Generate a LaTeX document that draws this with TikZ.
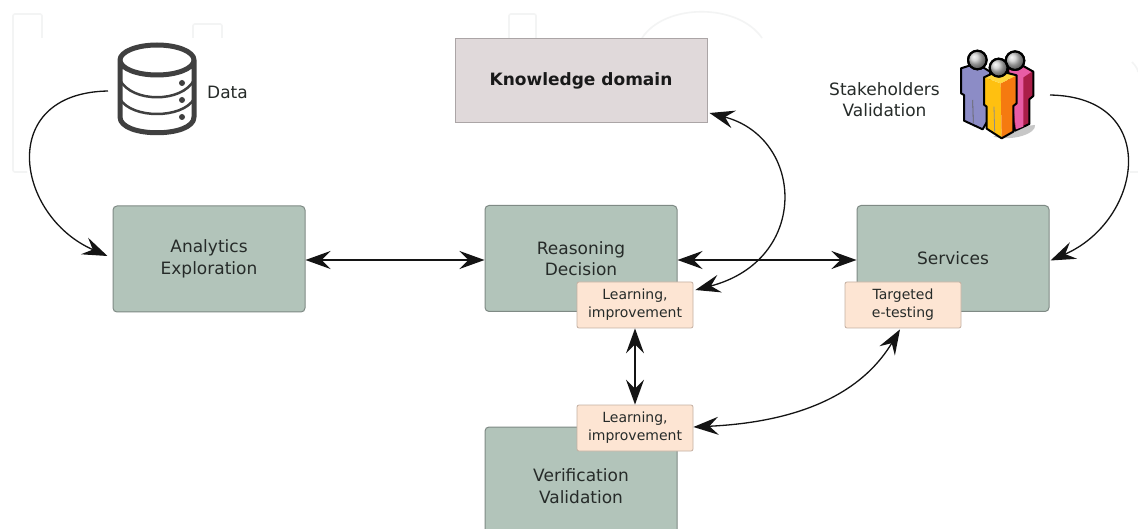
\documentclass[tikz,border=0pt]{standalone}
\usepackage{fontspec}
\setmainfont{DejaVu Sans}
\usetikzlibrary{arrows.meta}
\definecolor{boxgreen}{HTML}{B2C4BA}
\definecolor{boxedge}{HTML}{7F8A85}
\definecolor{kfill}{HTML}{E0D9DA}
\definecolor{kedge}{HTML}{ABA5A6}
\definecolor{peach}{HTML}{FDE5D3}
\definecolor{peachedge}{HTML}{C4B0A2}
\definecolor{inkc}{HTML}{262B29}
\definecolor{ghost}{HTML}{F3F4F4}
\tikzset{
  mainbox/.style={draw=boxedge,line width=1pt,fill=boxgreen,rounded corners=4pt,minimum width=192pt,minimum height=106pt,align=center,font=\fontsize{17}{21.5}\selectfont,text=inkc,inner sep=0pt},
  notebox/.style={draw=peachedge,line width=0.8pt,fill=peach,rounded corners=2pt,minimum width=116pt,minimum height=46pt,align=center,font=\fontsize{14}{18}\selectfont,text=inkc,inner sep=0pt},
  lbl/.style={align=center,font=\fontsize{17}{21.5}\selectfont,text=inkc,inner sep=0pt},
  iconspace/.style={inner sep=0pt,outer sep=0pt},
  biarrow/.style={line width=1.5pt,color=black!92,{Stealth[length=25pt,width=18pt,inset=9pt]}-{Stealth[length=25pt,width=18pt,inset=9pt]}},
  onearrow/.style={line width=1.3pt,color=black!92,-{Stealth[length=25pt,width=18pt,inset=9pt]}},
  ghostline/.style={draw=ghost,line width=1.6pt,rounded corners=2pt},
  ghostcurve/.style={draw=ghost,line width=1.6pt},
  headball/.style={draw=black,line width=2pt,ball color=black!22}
}
\begin{document}
\begin{tikzpicture}[x=1pt,y=-1pt]
\path[use as bounding box,clip] (0,0) rectangle (1138,529);
\fill[white] (0,0) rectangle (1138,529);
% faint marks
\draw[ghostline] (42,38) -- (42,14) -- (13,14) -- (13,172) -- (27,172);
\draw[ghostline] (193,38) -- (193,24) -- (222,24) -- (222,38);
\draw[ghostline] (509,38) -- (509,14) -- (536,14) -- (536,38);
\draw[ghostcurve] (642,38) .. controls (665,3) and (738,3) .. (762,38);
\draw[ghostcurve] (1132,62) .. controls (1136,66) and (1138,70) .. (1138,72);
\draw[ghostcurve] (1130,172) -- (1138,172);
% boxes
\node[mainbox] (ana) at (209,259) {Analytics\\Exploration};
\node[mainbox] (rea) at (581,258.5) {Reasoning\\Decision};
\node[mainbox] (ser) at (953,258.5) {Services};
\node[mainbox,minimum height=118pt] (ver) at (581,486) {Verification\\Validation};
\node[draw=kedge,line width=1pt,fill=kfill,minimum width=252pt,minimum height=84pt,font=\bfseries\fontsize{17}{18}\selectfont,text=black!90,inner sep=0pt] (kno) at (581,80.5) {Knowledge domain};
\node[notebox] (le1) at (635,305) {Learning,\\improvement};
\node[notebox] (tar) at (903,305) {Targeted\\e-testing};
\node[notebox] (le2) at (635,428) {Learning,\\improvement};
% data icon
\node[iconspace,minimum width=98pt,minimum height=100pt] (db) at (157,91) {};
\begin{scope}[shift={(157,60)}]
\draw[line width=5pt,color=black!75,line join=round] (-37,0) arc[start angle=180,end angle=360,x radius=37,y radius=15] arc[start angle=0,end angle=180,x radius=37,y radius=15] -- (-37,57) .. controls (-37,78) and (37,78) .. (37,57) -- (37,0);
\draw[line width=2.5pt,color=black!75] (-37,20) .. controls (-25,43) and (25,43) .. (37,20);
\draw[line width=2.5pt,color=black!75] (-37,39) .. controls (-25,59) and (25,59) .. (37,39);
\fill[black!75] (25,23) circle[radius=3] (25,40) circle[radius=3] (25,57) circle[radius=3];
\end{scope}
\node[lbl,anchor=west] (dat) at (207,92.5) {Data};
% stakeholders icon
\node[lbl] (sta) at (884.5,99.5) {Stakeholders\\Validation};
\node[iconspace,minimum width=106pt,minimum height=100pt] (peo) at (997,95) {};
\begin{scope}[shift={(760,0)},scale=1/3,x=1pt,y=-1pt,line join=round]
\fill[black!22] (700,410) .. controls (760,425) and (830,400) .. (825,375) -- (780,380) -- cycle;
% purple
\filldraw[draw=black,line width=2pt,fill={rgb,255:red,140;green,140;blue,198}] (603,205) -- (650,190) -- (690,215) -- (690,350) -- (668,388) -- (612,362) -- (612,285) -- (603,280) -- cycle;
\draw[black!60,line width=0.8pt] (638,300) -- (640,370);
% magenta
\filldraw[draw=black,line width=2pt,fill={rgb,255:red,170;green,30;blue,72}] (745,205) -- (790,198) -- (820,215) -- (820,288) -- (808,298) -- (808,372) -- (765,392) -- (745,300) -- cycle;
\fill[fill={rgb,255:red,232;green,92;blue,165}] (748,210) -- (790,203) -- (814,216) -- (790,232) -- (790,380) -- (768,388) -- cycle;
% orange
\fill[fill={rgb,255:red,255;green,192;blue,16}] (672,232) -- (722,250) -- (725,415) -- (680,386) -- (680,320) -- (672,314) -- cycle;
\fill[fill={rgb,255:red,245;green,122;blue,16}] (722,250) -- (770,226) -- (770,310) -- (760,318) -- (760,395) -- (725,415) -- cycle;
\fill[fill={rgb,255:red,255;green,214;blue,60}] (672,232) -- (715,212) -- (770,226) -- (722,250) -- cycle;
\draw[black,line width=2pt] (672,232) -- (715,212) -- (770,226) -- (770,310) -- (760,318) -- (760,395) -- (725,415) -- (680,386) -- (680,320) -- (672,314) -- cycle;
\draw[black!45,line width=0.8pt] (702,320) -- (704,395);
% heads
\shade[headball] (652,180) circle[radius=28];
\shade[headball] (765,182) circle[radius=28];
\shade[headball] (716,203) circle[radius=27];
\draw[black,line width=2pt] (652,180) circle[radius=28] (765,182) circle[radius=28] (716,203) circle[radius=27];
\end{scope}
% connectors
\draw[biarrow] ([yshift=-1pt]ana.east) -- ([yshift=-1.5pt]rea.west);
\draw[biarrow] ([yshift=-1.5pt]rea.east) -- ([yshift=-1.5pt]ser.west);
\draw[biarrow] (le1.south) -- (le2.north);
\draw[biarrow,line width=1.3pt] ([yshift=1pt]le2.east) .. controls +(85,-4) and +(-45,75) .. ([xshift=-3pt,yshift=-1pt]tar.south);
\draw[biarrow,line width=1.3pt] ([xshift=2pt,yshift=10pt]kno.south east) .. controls +(95,25) and +(115,-30) .. ([xshift=2pt,yshift=15pt]le1.east);
\draw[onearrow] (db.west) .. controls +(-112,2) and +(-92,-40) .. ([yshift=3pt,xshift=-5pt]ana.west);
\draw[onearrow] (peo.east) .. controls +(112,2) and +(92,-40) .. ([yshift=-2pt,xshift=1pt]ser.east);
\end{tikzpicture}
\end{document}
